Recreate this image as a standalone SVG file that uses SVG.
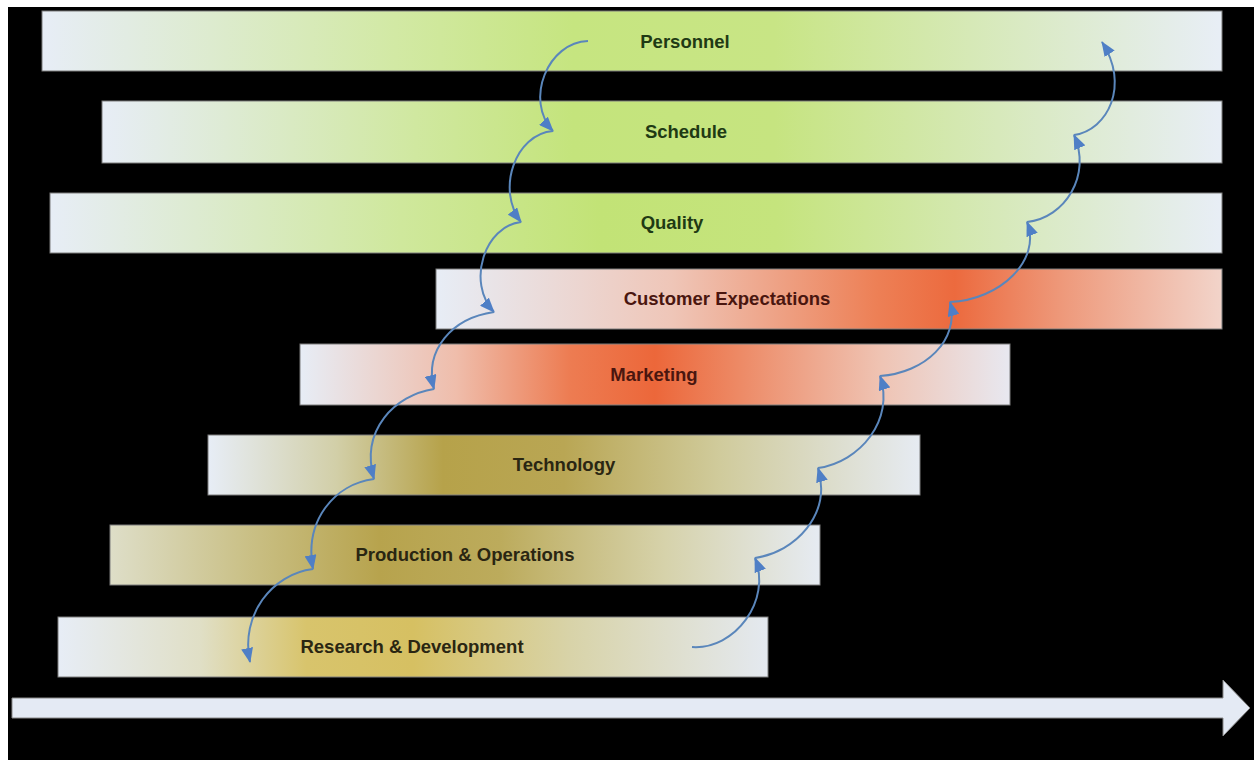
<svg xmlns="http://www.w3.org/2000/svg" width="1254" height="760" viewBox="0 0 1254 760">
  <defs>
    <style>
      .bar { stroke: #7c7c7c; stroke-width: 1; }
      .lbl { font-family: "Liberation Sans", Arial, Helvetica, sans-serif; font-weight: bold; font-size: 18.5px; text-anchor: middle; }
      .g-txt { fill: #1f3a14; }
      .o-txt { fill: #4a160f; }
      .y-txt { fill: #2a2612; }
      .flow { fill: none; stroke: #5a86bb; stroke-width: 2; marker-end: url(#tip); }
    </style>
    <marker id="tip" markerUnits="userSpaceOnUse" markerWidth="16" markerHeight="12" refX="14" refY="6" orient="auto">
      <path d="M0,0 L15,6 L0,12 z" fill="#4f7fc6"/>
    </marker>
    <!-- green bars -->
    <linearGradient id="gPersonnel" x1="0" y1="0" x2="1" y2="0">
      <stop offset="0" stop-color="#e7edf6"/>
      <stop offset="0.3" stop-color="#d2e9a4"/>
      <stop offset="0.45" stop-color="#c6e580"/>
      <stop offset="0.62" stop-color="#c8e585"/>
      <stop offset="1" stop-color="#e8eef6"/>
    </linearGradient>
    <linearGradient id="gSchedule" x1="0" y1="0" x2="1" y2="0">
      <stop offset="0" stop-color="#e7edf6"/>
      <stop offset="0.28" stop-color="#d0e8a0"/>
      <stop offset="0.42" stop-color="#c4e47c"/>
      <stop offset="0.6" stop-color="#c6e480"/>
      <stop offset="1" stop-color="#e8eef6"/>
    </linearGradient>
    <linearGradient id="gQuality" x1="0" y1="0" x2="1" y2="0">
      <stop offset="0" stop-color="#e7edf6"/>
      <stop offset="0.3" stop-color="#cfe89c"/>
      <stop offset="0.47" stop-color="#c2e376"/>
      <stop offset="0.62" stop-color="#c5e47d"/>
      <stop offset="1" stop-color="#e8eef6"/>
    </linearGradient>
    <!-- orange bars -->
    <linearGradient id="gCustomer" x1="0" y1="0" x2="1" y2="0">
      <stop offset="0" stop-color="#e7edf6"/>
      <stop offset="0.3" stop-color="#efc6b8"/>
      <stop offset="0.56" stop-color="#ed8056"/>
      <stop offset="0.66" stop-color="#ec6a3e"/>
      <stop offset="0.8" stop-color="#ee9a7c"/>
      <stop offset="1" stop-color="#f2d4ca"/>
    </linearGradient>
    <linearGradient id="gMarketing" x1="0" y1="0" x2="1" y2="0">
      <stop offset="0" stop-color="#e7edf6"/>
      <stop offset="0.22" stop-color="#efbdab"/>
      <stop offset="0.38" stop-color="#ed7c52"/>
      <stop offset="0.5" stop-color="#ec673a"/>
      <stop offset="0.62" stop-color="#ed8a66"/>
      <stop offset="0.82" stop-color="#efc4b4"/>
      <stop offset="1" stop-color="#e8e8f0"/>
    </linearGradient>
    <!-- olive / gold bars -->
    <linearGradient id="gTechnology" x1="0" y1="0" x2="1" y2="0">
      <stop offset="0" stop-color="#e7edf6"/>
      <stop offset="0.18" stop-color="#d2cfa8"/>
      <stop offset="0.33" stop-color="#b6a24a"/>
      <stop offset="0.5" stop-color="#b9a654"/>
      <stop offset="0.72" stop-color="#d0cb9c"/>
      <stop offset="1" stop-color="#e6ebf2"/>
    </linearGradient>
    <linearGradient id="gProduction" x1="0" y1="0" x2="1" y2="0">
      <stop offset="0" stop-color="#dedec8"/>
      <stop offset="0.2" stop-color="#c9bf84"/>
      <stop offset="0.38" stop-color="#b7a34d"/>
      <stop offset="0.55" stop-color="#bcab5c"/>
      <stop offset="0.78" stop-color="#d6d2aa"/>
      <stop offset="1" stop-color="#e6ebf2"/>
    </linearGradient>
    <linearGradient id="gResearch" x1="0" y1="0" x2="1" y2="0">
      <stop offset="0" stop-color="#e7edf6"/>
      <stop offset="0.2" stop-color="#e0dfc6"/>
      <stop offset="0.35" stop-color="#d8c46c"/>
      <stop offset="0.5" stop-color="#d6c062"/>
      <stop offset="0.72" stop-color="#d8d3a8"/>
      <stop offset="1" stop-color="#e4e9f0"/>
    </linearGradient>
  </defs>

  <!-- canvas -->
  <rect x="0" y="0" width="1254" height="760" fill="#ffffff"/>
  <rect x="8" y="7" width="1246" height="753" fill="#000000"/>

  <!-- stacked bars -->
  <g id="personnel">
    <rect class="bar" x="42" y="11" width="1180" height="60" fill="url(#gPersonnel)"/>
    <text class="lbl g-txt" x="685" y="48">Personnel</text>
  </g>
  <g id="schedule">
    <rect class="bar" x="102" y="101" width="1120" height="62" fill="url(#gSchedule)"/>
    <text class="lbl g-txt" x="686" y="138">Schedule</text>
  </g>
  <g id="quality">
    <rect class="bar" x="50" y="193" width="1172" height="60" fill="url(#gQuality)"/>
    <text class="lbl g-txt" x="672" y="229">Quality</text>
  </g>
  <g id="customer-expectations">
    <rect class="bar" x="436" y="269" width="786" height="60" fill="url(#gCustomer)"/>
    <text class="lbl o-txt" x="727" y="305">Customer Expectations</text>
  </g>
  <g id="marketing">
    <rect class="bar" x="300" y="344" width="710" height="61" fill="url(#gMarketing)"/>
    <text class="lbl o-txt" x="654" y="381">Marketing</text>
  </g>
  <g id="technology">
    <rect class="bar" x="208" y="435" width="712" height="60" fill="url(#gTechnology)"/>
    <text class="lbl y-txt" x="564" y="471">Technology</text>
  </g>
  <g id="production-operations">
    <rect class="bar" x="110" y="525" width="710" height="60" fill="url(#gProduction)"/>
    <text class="lbl y-txt" x="465" y="561">Production &amp; Operations</text>
  </g>
  <g id="research-development">
    <rect class="bar" x="58" y="617" width="710" height="60" fill="url(#gResearch)"/>
    <text class="lbl y-txt" x="412" y="653">Research &amp; Development</text>
  </g>

  <!-- time axis -->
  <g id="time-axis">
    <path d="M12,698 L1223,698 L1223,680 L1250,708 L1223,736 L1223,718 L12,718 z" fill="#e4eaf4" stroke="#8a8a8a" stroke-width="1"/>
  </g>

  <!-- connectors -->
  <g id="connectors">
    <!-- downward chain -->
    <path class="flow" d="M588,41 C548,42 524,100 553,131"/>
    <path class="flow" d="M553,131 C515,134 496,190 521,222"/>
    <path class="flow" d="M521,222 C485,226 466,282 494,312"/>
    <path class="flow" d="M494,312 C452,318 424,350 434,389"/>
    <path class="flow" d="M434,389 C395,395 360,430 374,479"/>
    <path class="flow" d="M374,479 C335,484 304,520 313,569"/>
    <path class="flow" d="M313,569 C272,574 240,615 250,662"/>
    <!-- upward chain -->
    <path class="flow" d="M692,647 C735,650 772,600 755,558"/>
    <path class="flow" d="M755,558 C795,552 832,515 818,468"/>
    <path class="flow" d="M818,468 C860,462 895,420 880,376"/>
    <path class="flow" d="M880,376 C925,373 960,340 950,302"/>
    <path class="flow" d="M950,302 C1000,300 1042,260 1027,222"/>
    <path class="flow" d="M1027,222 C1065,218 1092,175 1074,135"/>
    <path class="flow" d="M1074,135 C1108,130 1130,85 1102,42"/>
  </g>
</svg>
